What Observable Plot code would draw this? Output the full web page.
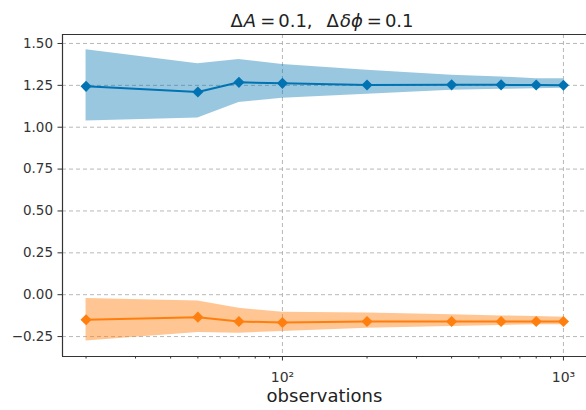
<!DOCTYPE html>
<html>
<head>
<meta charset="utf-8">
<script src="https://cdn.jsdelivr.net/npm/d3@7"></script>
<script src="https://cdn.jsdelivr.net/npm/@observablehq/plot@0.6"></script>
<style>
  html, body { margin: 0; padding: 0; background: white; }
</style>
</head>
<body>
<div id="chart"></div>
<script>
const observations = [20, 50, 70, 100, 200, 400, 600, 800, 1000];
const blueMean  = [1.244, 1.21, 1.268, 1.262, 1.252, 1.253, 1.253, 1.252, 1.251];
const blueLow   = [1.037, 1.055, 1.147, 1.173, 1.197, 1.22, 1.226, 1.23, 1.232];
const blueHigh  = [1.462, 1.379, 1.405, 1.375, 1.34, 1.31, 1.30, 1.29, 1.29];
const orangeMean = [-0.15, -0.134, -0.16, -0.166, -0.16, -0.16, -0.16, -0.16, -0.16];
const orangeLow  = [-0.276, -0.226, -0.23, -0.22, -0.2, -0.19, -0.184, -0.18, -0.18];
const orangeHigh = [-0.022, -0.038, -0.081, -0.105, -0.11, -0.12, -0.127, -0.13, -0.135];

const yTicks = [-0.25, 0, 0.25, 0.5, 0.75, 1.0, 1.25, 1.5];
const xMajor = [100, 1000];
const xMajorLabels = ["10²", "10³"];
const xMinor = [20, 30, 40, 50, 60, 70, 80, 90, 200, 300, 400, 500, 600, 700, 800, 900];
const xDomain = [16.49, 1208];
const yDomain = [-0.369, 1.5536];

const blueColor = "#0173b2";
const orangeColor = "#ff7f0e";

const series = [
  {name: "A", color: blueColor, mean: blueMean, low: blueLow, high: blueHigh, fo: 0.4},
  {name: "B", color: orangeColor, mean: orangeMean, low: orangeLow, high: orangeHigh, fo: 0.45}
];

const marks = [
  Plot.gridY(yTicks, {stroke: "#b0b0b0", strokeOpacity: 1, strokeDasharray: "4,3", strokeWidth: 0.9}),
  Plot.gridX(xMajor, {stroke: "#b0b0b0", strokeOpacity: 1, strokeDasharray: "4,3", strokeWidth: 0.9})
];
for (const s of series) {
  const rows = observations.map((o, i) => ({x: o, m: s.mean[i], lo: s.low[i], hi: s.high[i]}));
  marks.push(Plot.areaY(rows, {x: "x", y1: "lo", y2: "hi", fill: s.color, fillOpacity: s.fo}));
}
for (const s of series) {
  const rows = observations.map((o, i) => ({x: o, m: s.mean[i]}));
  marks.push(Plot.line(rows, {x: "x", y: "m", stroke: s.color, strokeWidth: 2}));
  marks.push(Plot.dot(rows, {x: "x", y: "m", symbol: "diamond2", r: 5, fill: s.color, stroke: "none"}));
}
marks.push(
  Plot.axisY(yTicks, {tickFormat: d3.format(".2f"), tickSize: 4.5, tickPadding: 5, fontSize: 13.5, label: null, stroke: "#333", fill: "#333"}),
  Plot.axisX(xMajor, {tickFormat: (d) => xMajorLabels[xMajor.indexOf(d)], tickSize: 4.5, tickPadding: 11, fontSize: 14, label: null, stroke: "#333", fill: "#333"}),
  Plot.axisX(xMinor, {tickFormat: () => "", tickSize: 2.5, label: null, stroke: "#333"}),
  Plot.ruleX([xDomain[0]], {stroke: "#333", strokeWidth: 1.2}),
  Plot.ruleY([yDomain[0], yDomain[1]], {stroke: "#333", strokeWidth: 1.2}),
  Plot.text(["observations"], {frameAnchor: "bottom", dy: 45, fontSize: 18, fill: "#222"})
);

const chart = Plot.plot({
  width: 586,
  height: 410,
  marginLeft: 62,
  marginRight: 0,
  marginTop: 34,
  marginBottom: 54,
  style: {fontFamily: "DejaVu Sans", fontSize: "13px", color: "#333", background: "white", overflow: "visible"},
  x: {type: "log", domain: xDomain},
  y: {domain: yDomain},
  marks
});

const svg = d3.select(chart.tagName.toLowerCase() === "svg" ? chart : chart.querySelector("svg"));
const title = svg.append("text")
  .attr("x", 322)
  .attr("y", 27)
  .attr("text-anchor", "middle")
  .attr("font-family", "DejaVu Sans")
  .attr("font-size", 18)
  .attr("fill", "#222");
title.append("tspan").text("Δ");
title.append("tspan").attr("dx", 1).attr("font-style", "italic").text("A");
title.append("tspan").attr("dx", 4).text("=");
title.append("tspan").attr("dx", 3).text("0.1,");
title.append("tspan").attr("dx", 14).text("Δ");
title.append("tspan").attr("dx", 1).attr("font-style", "italic").text("δϕ");
title.append("tspan").attr("dx", 4).text("=");
title.append("tspan").attr("dx", 3).text("0.1");

document.getElementById("chart").appendChild(chart);
</script>
</body>
</html>
